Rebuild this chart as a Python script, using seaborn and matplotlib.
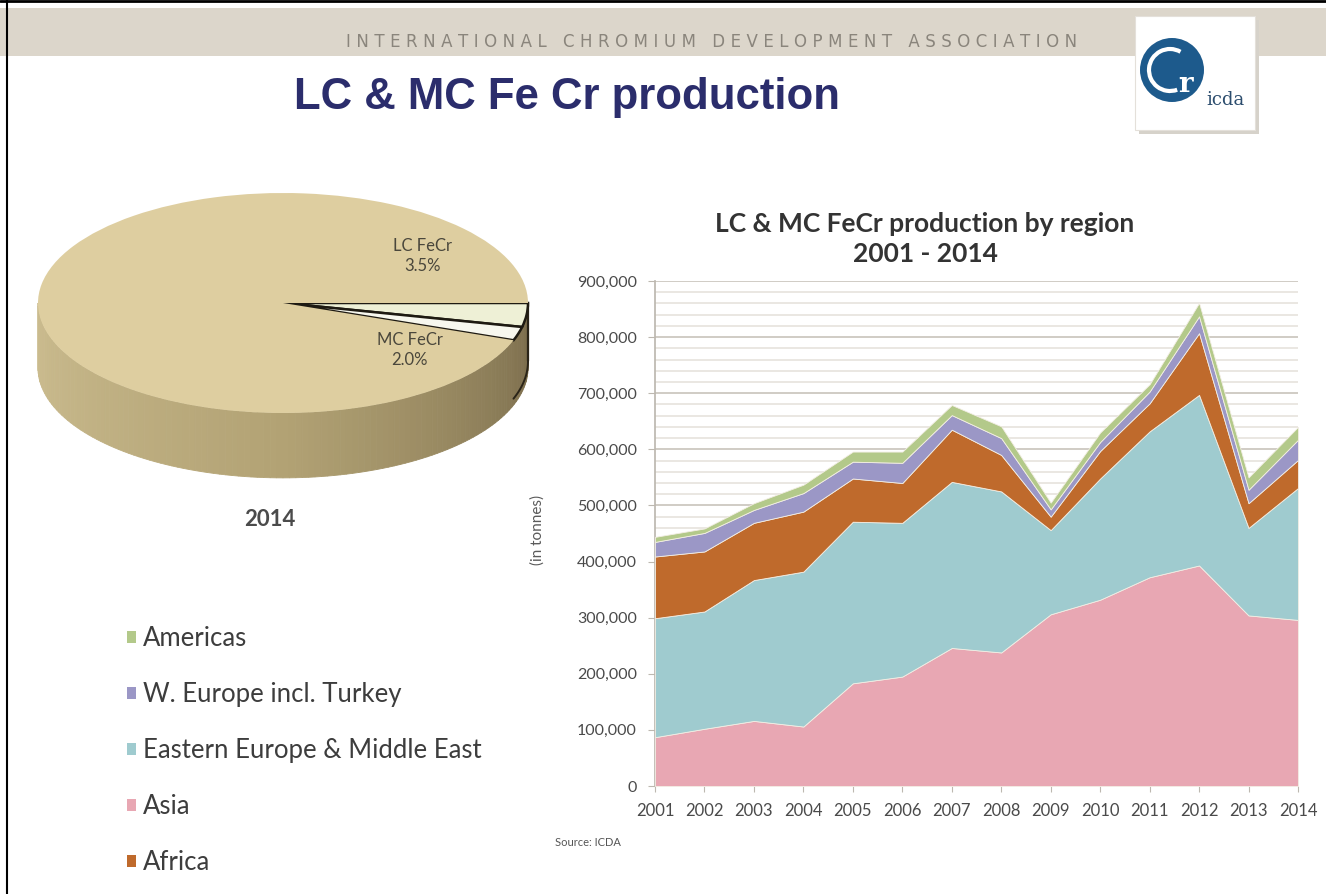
import numpy as np
import pandas as pd
import matplotlib
matplotlib.use("Agg")
import matplotlib.pyplot as plt
import seaborn as sns
from matplotlib.patches import Rectangle, Polygon, Circle, Patch, Arc
from matplotlib.lines import Line2D
from matplotlib.ticker import FuncFormatter, MultipleLocator

# data (tonnes)
years = list(range(2001, 2015))
asia = [87000, 102000, 116000, 106000, 183000, 195000, 246000, 238000, 306000, 332000, 372000, 393000, 304000, 296000]
east_europe = [212000, 209000, 251000, 276000, 288000, 274000, 296000, 287000, 150000, 216000, 260000, 304000, 156000, 235000]
africa = [110000, 107000, 102000, 107000, 77000, 71000, 93000, 65000, 24000, 49000, 50000, 110000, 44000, 50000]
w_europe = [26000, 33000, 23000, 33000, 30000, 36000, 26000, 30000, 13000, 16000, 21000, 30000, 24000, 36000]
americas = [9000, 8000, 12000, 15000, 18000, 20000, 18000, 21000, 12000, 17000, 13000, 24000, 22000, 23000]

stack_order = ["Asia", "Eastern Europe & Middle East", "Africa", "W. Europe incl. Turkey", "Americas"]
legend_order = ["Americas", "W. Europe incl. Turkey", "Eastern Europe & Middle East", "Asia", "Africa"]
colors = {"Asia": "#e8a7b3", "Eastern Europe & Middle East": "#9fcbcf", "Africa": "#bf6a2c",
          "W. Europe incl. Turkey": "#9b97c6", "Americas": "#b3c98a"}

pie_labels = ["LC FeCr", "MC FeCr", "Other FeCr"]
pie_share = [3.5, 2.0, 94.5]
pie_year = "2014"

df = pd.DataFrame({"year": years, "Asia": asia, "Eastern Europe & Middle East": east_europe,
                   "Africa": africa, "W. Europe incl. Turkey": w_europe, "Americas": americas})

sns.set_theme(style="white")
plt.rcParams["font.family"] = ["Lato", "DejaVu Sans"]

W, H = 1326, 894
fig = plt.figure(figsize=(W / 100, H / 100), dpi=100)
fig.patch.set_facecolor("white")

# header band + border
fig.patches.append(Rectangle((0, 1 - 56 / H), 1, 48 / H, transform=fig.transFigure,
                             facecolor="#dcd6cb", edgecolor="none", zorder=-5))
fig.lines.append(Line2D([0, 1], [1 - 1 / H, 1 - 1 / H], transform=fig.transFigure, color="black", lw=2))
fig.lines.append(Line2D([7 / W, 7 / W], [0, 1], transform=fig.transFigure, color="black", lw=1.5))
head = "INTERNATIONAL CHROMIUM DEVELOPMENT ASSOCIATION"
fig.text(712 / W, 1 - 42 / H, "\u2004".join(head), ha="center", va="center", fontsize=12,
         color="#8a857c", family=["DejaVu Sans"])
fig.text(567 / W, 1 - 98 / H, "LC & MC Fe Cr production", ha="center", va="center", fontsize=31.5,
         fontweight="bold", color="#2b2d6c", family=["Liberation Sans"])

# logo
lax = fig.add_axes([1130 / W, 1 - 136 / H, 132 / W, 124 / H], zorder=5)
lax.set_xlim(0, 132); lax.set_ylim(0, 124); lax.set_axis_off()
lax.add_patch(Rectangle((9, 2), 120, 114, facecolor="#d6d2ca", edgecolor="none"))
lax.add_patch(Rectangle((5, 6), 120, 114, facecolor="white", edgecolor="#e4e0da", lw=0.8))
lax.add_patch(Circle((42, 66), 32, facecolor="#1d5a8c", edgecolor="none"))
lax.add_patch(Arc((40, 66), 42, 42, theta1=60, theta2=290, color="white", lw=3))
lax.text(56, 52, "r", color="white", fontsize=20, fontweight="bold", family=["DejaVu Serif"], ha="center", va="center")
lax.text(95, 36, "icda", color="#2c4d6e", fontsize=13, family=["DejaVu Serif"], ha="center", va="center")

# 3D-looking pie
pax = fig.add_axes([13.5 / W, 1 - 490 / H, 539 / W, 308 / H])
depth = 0.59
side_left = np.array([204, 189, 144]) / 255
side_mid = np.array([178, 162, 116]) / 255
side_right = np.array([120, 106, 74]) / 255
ang = np.linspace(np.pi, 2 * np.pi, 121)
for a0, a1 in zip(ang[:-1], ang[1:]):
    t = (a0 - np.pi) / np.pi
    if t < 0.5:
        c = side_left + (side_mid - side_left) * t * 2
    else:
        c = side_mid + (side_right - side_mid) * (t - 0.5) * 2
    pts = [(np.cos(a0), np.sin(a0)), (np.cos(a1), np.sin(a1)),
           (np.cos(a1), np.sin(a1) - depth), (np.cos(a0), np.sin(a0) - depth)]
    pax.add_patch(Polygon(pts, closed=True, facecolor=c, edgecolor=c, lw=0.6, zorder=1))
mc_end = 2 * np.pi - sum(pie_share[:2]) / 100 * 2 * np.pi
edge = np.linspace(mc_end, 2 * np.pi, 20)
pax.plot(np.cos(edge), np.sin(edge) - depth * 0.9, color="#2a2418", lw=1.4, zorder=2)
pax.plot([1, 1], [0, -depth * 0.9], color="#2a2418", lw=1.6, zorder=2)

wedges, _ = pax.pie(pie_share, colors=["#eef0d6", "#f7f7ee", "#decea0"], startangle=0,
                    counterclock=False, radius=1, center=(0, 0), frame=False,
                    wedgeprops=dict(linewidth=0))
for w in wedges:
    w.set_zorder(3)
for w in wedges[:2]:
    w.set_edgecolor("#1e1a12"); w.set_linewidth(1.8)
pax.set_aspect("auto")
pax.set_xlim(-1.1, 1.1); pax.set_ylim(-1.7, 1.1); pax.set_axis_off()
pax.text(0.571, 0.427, f"{pie_labels[0]}\n{pie_share[0]:.1f}%", ha="center", va="center",
         fontsize=12, color="#4a473c", linespacing=1.3, zorder=4)
pax.text(0.518, -0.427, f"{pie_labels[1]}\n{pie_share[1]:.1f}%", ha="center", va="center",
         fontsize=12, color="#4a473c", linespacing=1.3, zorder=4)
fig.text(270 / W, 1 - 520 / H, pie_year, ha="center", va="center", fontsize=16,
         fontweight="bold", color="#4b4b4b")

# stacked area chart
ax = fig.add_axes([655 / W, 1 - 786 / H, (1298 - 655) / W, (786 - 281) / H])
polys = ax.stackplot(df["year"], *[df[r] for r in stack_order],
                     colors=[colors[r] for r in stack_order], labels=stack_order,
                     edgecolor="#f3eee4", linewidth=0.6, zorder=3)
ax.set_xlim(years[0], years[-1])
ax.set_ylim(0, 900000)
ax.set_xticks(years)
ax.yaxis.set_major_locator(MultipleLocator(100000))
ax.yaxis.set_minor_locator(MultipleLocator(20000))
ax.yaxis.set_major_formatter(FuncFormatter(lambda v, p: f"{int(v):,}"))
ax.grid(which="major", axis="y", color="#cdc8c0", lw=1.3, zorder=0)
ax.grid(which="minor", axis="y", color="#e4e0da", lw=1.1, zorder=0)
ax.set_axisbelow(True)
sns.despine(ax=ax, top=True, right=True, bottom=True)
ax.spines["left"].set_color("#bdb8b0")
ax.tick_params(axis="y", which="major", left=True, labelsize=11.5, labelcolor="#4a4a4a",
               color="#bdb8b0", length=5, width=0.8, pad=8)
ax.tick_params(axis="x", which="major", bottom=True, labelsize=12, labelcolor="#4a4a4a",
               color="#bdb8b0", length=4, width=0.8, pad=8)
ax.tick_params(axis="y", which="minor", left=False)
ax.set_ylabel("(in tonnes)", fontsize=11, color="#5a5a5a")
ax.yaxis.set_label_coords(-0.171, 0.507)
fig.text(925 / W, 1 - 239 / H, "LC & MC FeCr production by region\n2001 - 2014", fontsize=19,
         fontweight="bold", color="#333333", ha="center", va="center", linespacing=1.3)
fig.text(555 / W, 1 - 843 / H, "Source: ICDA", fontsize=8, color="#555555", va="center")

# legend at left
handles = [Patch(facecolor=colors[r], edgecolor="none") for r in legend_order]
fig.legend(handles, legend_order, loc="upper left", bbox_to_anchor=(127 / W, 1 - 626 / H),
           frameon=False, fontsize=18.5, handlelength=0.36, handleheight=0.36, handletextpad=0.25,
           labelspacing=1.21, borderpad=0, borderaxespad=0, labelcolor="#3d3d3d")

fig.savefig("out.png", dpi=100)
